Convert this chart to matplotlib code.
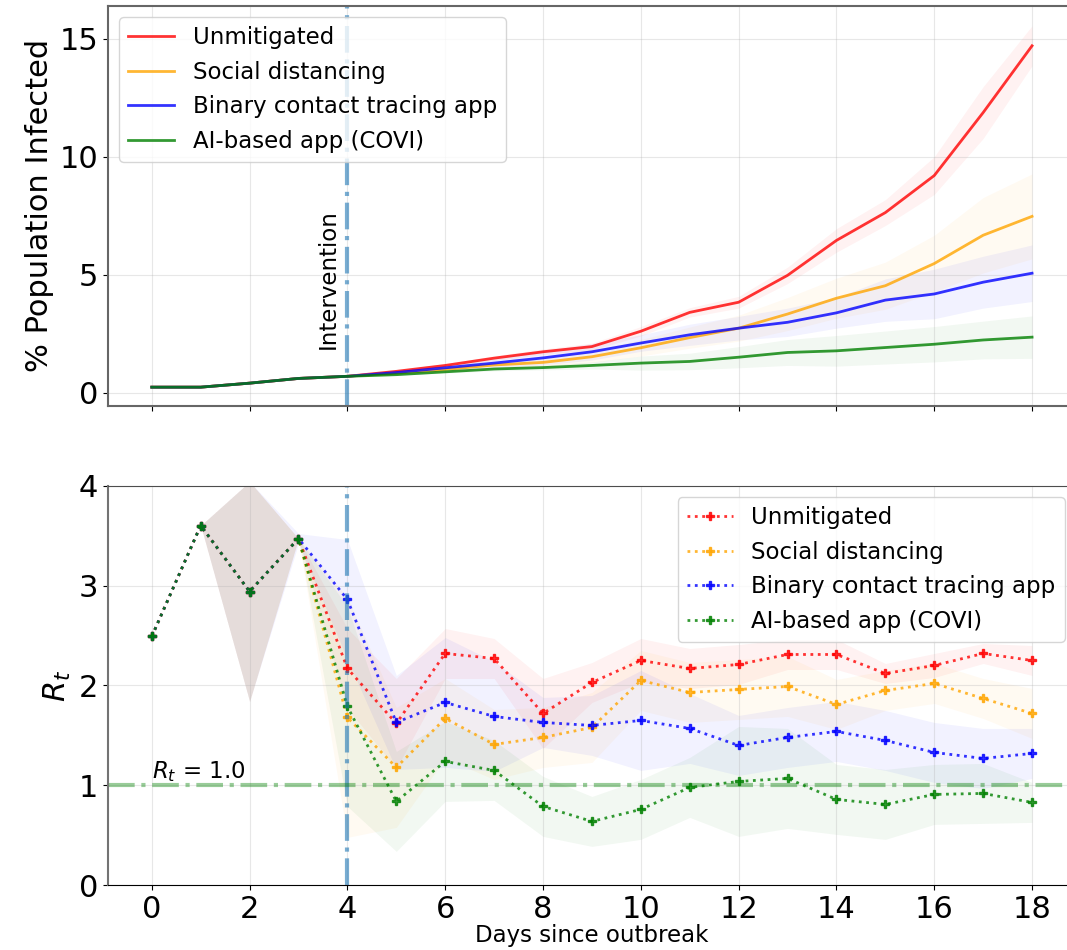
import numpy as np
import matplotlib
matplotlib.use("Agg")
import matplotlib.pyplot as plt

days = list(range(19))
names = ["Unmitigated", "Social distancing", "Binary contact tracing app", "AI-based app (COVI)"]
colors = ["red", "orange", "blue", "green"]

# % population infected (mean) and spread
inf_unmit = [0.23, 0.23, 0.4, 0.6, 0.69, 0.9, 1.15, 1.46, 1.73, 1.95, 2.6, 3.4, 3.83, 4.97, 6.45, 7.63, 9.2, 11.87, 14.7]
inf_social = [0.23, 0.23, 0.4, 0.6, 0.69, 0.82, 0.98, 1.17, 1.28, 1.52, 1.9, 2.33, 2.73, 3.33, 4.0, 4.53, 5.47, 6.67, 7.47]
inf_binary = [0.23, 0.23, 0.4, 0.6, 0.69, 0.85, 1.05, 1.25, 1.47, 1.73, 2.1, 2.45, 2.73, 2.98, 3.38, 3.92, 4.18, 4.68, 5.06]
inf_covi = [0.23, 0.23, 0.4, 0.6, 0.69, 0.76, 0.88, 1.0, 1.06, 1.15, 1.25, 1.32, 1.5, 1.7, 1.77, 1.91, 2.05, 2.23, 2.35]

inf_unmit_sd = [0.02, 0.02, 0.02, 0.02, 0.02, 0.05, 0.08, 0.1, 0.12, 0.15, 0.2, 0.2, 0.25, 0.35, 0.5, 0.55, 0.8, 1.1, 0.85]
inf_social_sd = [0.02, 0.02, 0.02, 0.02, 0.02, 0.05, 0.1, 0.15, 0.2, 0.25, 0.35, 0.45, 0.55, 0.7, 0.85, 1.0, 1.2, 1.6, 1.8]
inf_binary_sd = [0.02, 0.02, 0.02, 0.02, 0.02, 0.05, 0.1, 0.2, 0.3, 0.35, 0.35, 0.45, 0.5, 0.6, 0.65, 0.9, 1.05, 1.1, 1.2]
inf_covi_sd = [0.02, 0.02, 0.02, 0.02, 0.02, 0.03, 0.05, 0.08, 0.1, 0.15, 0.3, 0.35, 0.45, 0.55, 0.65, 0.7, 0.75, 0.8, 0.9]

# effective reproduction number
rt_unmit = [2.49, 3.6, 2.94, 3.47, 2.17, 1.62, 2.32, 2.27, 1.72, 2.03, 2.25, 2.17, 2.21, 2.31, 2.31, 2.12, 2.2, 2.32, 2.25]
rt_social = [2.49, 3.6, 2.94, 3.47, 1.68, 1.18, 1.67, 1.41, 1.48, 1.58, 2.05, 1.93, 1.96, 1.99, 1.81, 1.95, 2.02, 1.87, 1.72]
rt_binary = [2.49, 3.6, 2.94, 3.47, 2.86, 1.63, 1.83, 1.69, 1.63, 1.6, 1.65, 1.57, 1.4, 1.48, 1.54, 1.45, 1.33, 1.27, 1.32]
rt_covi = [2.49, 3.6, 2.94, 3.47, 1.79, 0.84, 1.24, 1.15, 0.79, 0.64, 0.76, 0.98, 1.04, 1.07, 0.86, 0.81, 0.91, 0.92, 0.83]

rt_unmit_sd = [0, 0, 1.1, 0, 0.4, 0.45, 0.25, 0.2, 0.35, 0.2, 0.22, 0.2, 0.2, 0.15, 0.15, 0.1, 0.12, 0.1, 0.15]
rt_social_sd = [0, 0, 1.1, 0, 1.2, 0.6, 0.4, 0.35, 0.3, 0.35, 0.3, 0.3, 0.3, 0.3, 0.25, 0.2, 0.2, 0.2, 0.25]
rt_binary_sd = [0, 0, 1.1, 0.05, 0.6, 0.47, 0.65, 0.55, 0.25, 0.3, 0.5, 0.35, 0.3, 0.3, 0.3, 0.3, 0.3, 0.3, 0.25]
rt_covi_sd = [0, 0, 1.1, 0, 1.0, 0.5, 0.4, 0.3, 0.3, 0.25, 0.3, 0.3, 0.55, 0.5, 0.35, 0.35, 0.3, 0.3, 0.2]

infected = [inf_unmit, inf_social, inf_binary, inf_covi]
infected_sd = [inf_unmit_sd, inf_social_sd, inf_binary_sd, inf_covi_sd]
rts = [rt_unmit, rt_social, rt_binary, rt_covi]
rts_sd = [rt_unmit_sd, rt_social_sd, rt_binary_sd, rt_covi_sd]

fig, (ax1, ax2) = plt.subplots(2, 1, figsize=(10.67, 9.5), dpi=100, sharex=True)
# right edge runs past the canvas, like the cropped original
fig.subplots_adjust(left=0.101, right=1.0085, top=0.994, bottom=0.068, hspace=0.2)

x = np.array(days)
for name, c, m, s in zip(names, colors, infected, infected_sd):
    m = np.array(m)
    s = np.array(s)
    ax1.plot(x, m, color=c, alpha=0.8, lw=2, label=name)
    ax1.fill_between(x, m - s, m + s, color=c, alpha=0.05, lw=0)

ax1.axvline(4, color="#1f77b4", alpha=0.6, ls="-.", lw=3)
ax1.text(3.6, 4.8, "Intervention", rotation=90, ha="center", va="center", fontsize=16.5)
ax1.set_ylabel("% Population Infected", fontsize=22)
ax1.set_ylim(-0.55, 16.4)
ax1.set_yticks([0, 5, 10, 15])
ax1.tick_params(labelsize=22)
ax1.grid(True, alpha=0.3)
ax1.legend(loc="upper left", fontsize=16.5)
for sp in ax1.spines.values():
    sp.set_color("0.4")
    sp.set_linewidth(1.5)

for name, c, m, s in zip(names, colors, rts, rts_sd):
    m = np.array(m)
    s = np.array(s)
    ax2.plot(x, m, color=c, alpha=0.8, lw=2, ls=":", marker="P", markersize=6, label=name)
    ax2.fill_between(x, m - s, m + s, color=c, alpha=0.05, lw=0)

ax2.axvline(4, color="#1f77b4", alpha=0.6, ls="-.", lw=3)
ax2.axhline(1.0, color="green", alpha=0.4, ls="-.", lw=3)
ax2.text(0, 1.07, r"$R_t$ = 1.0", fontsize=16.5)
ax2.set_ylabel(r"$R_t$", fontsize=22)
ax2.set_xlabel("Days since outbreak", fontsize=16.5, labelpad=0)
ax2.set_ylim(0, 4)
ax2.set_yticks([0, 1, 2, 3, 4])
ax2.set_xticks(range(0, 19, 2))
ax2.set_xlim(-0.9, 18.9)
ax2.tick_params(labelsize=22)
ax2.grid(True, alpha=0.3)
ax2.legend(loc="upper right", fontsize=16.5)
ax2.spines["left"].set_color("0.45")
ax2.spines["left"].set_linewidth(1.5)
ax2.spines["top"].set_color("0.3")

plt.savefig("out.png")
